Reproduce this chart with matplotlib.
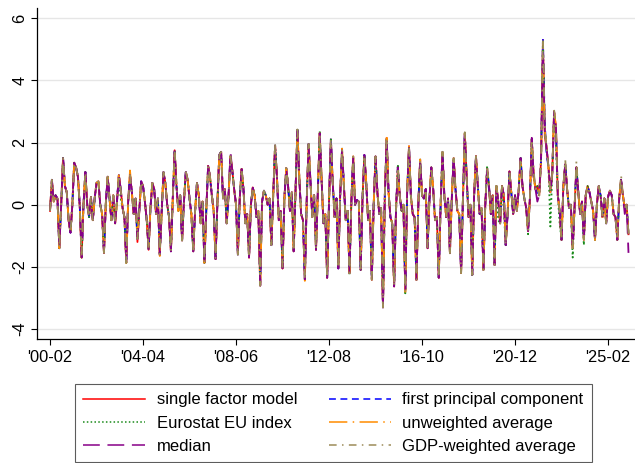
import numpy as np
import pandas as pd
import matplotlib
matplotlib.use("Agg")
import matplotlib.pyplot as plt

plt.rcParams['font.family'] = ['Liberation Sans', 'DejaVu Sans']

# monthly values, one row per calendar year (2000 starts in Feb, 2026 has Jan only)
base_rows = [
    [-0.2, 0.8, 0.1, 0.3, 0.2, -1.4, 0.0, 1.5, 0.6, 0.4, -0.5],
    [-0.9, 0.0, 1.35, 1.2, 0.9, -0.05, -1.7, 0.0, 1.05, 0.0, -0.4, 0.25],
    [-0.5, 0.2, 0.7, 0.75, 0.0, -0.3, -1.55, 0.05, 0.9, 0.2, -0.5, 0.3],
    [-0.6, 0.1, 0.95, 0.5, -0.1, -0.4, -1.87, 0.1, 0.95, 0.4, -0.3, 0.2],
    [-1.1, -0.2, 0.75, 0.6, 0.1, -0.5, -1.45, -0.1, 0.7, 0.5, -0.3, 0.2],
    [-1.6, -0.3, 1.05, 0.7, 0.0, -0.4, -1.5, 0.2, 1.75, 0.6, -0.2, 0.3],
    [-1.15, 0.1, 1.05, 0.8, 0.2, -0.3, -1.5, -0.2, 0.7, 0.3, -0.6, 0.1],
    [-1.87, -0.2, 1.25, 0.9, 0.3, -0.2, -1.75, 0.1, 1.6, 1.7, 0.2, 0.5],
    [-0.6, 0.3, 1.56, 1.1, 0.5, 0.0, -1.6, 0.2, 1.15, 0.5, -0.6, -0.3],
    [-1.7, 0.0, 0.55, 0.3, -0.4, -0.2, -2.6, 0.1, 0.45, 0.3, 0.0, 0.2],
    [-1.3, 0.3, 1.9, 0.9, -0.5, -0.2, -2.05, 0.2, 1.18, 0.6, -0.2, 0.4],
    [-1.5, 0.5, 2.4, 0.9, -0.3, -0.5, -2.4, 0.1, 1.95, 0.8, -0.4, 0.3],
    [-1.45, 0.4, 2.3, 0.8, -0.6, -0.3, -2.35, 0.1, 2.1, 0.7, -0.4, 0.2],
    [-2.05, 0.3, 1.8, 0.6, -0.5, -0.2, -2.2, 0.1, 1.55, 0.0, 0.15, 0.1],
    [-2.1, 0.2, 1.6, 0.7, -0.5, -0.2, -2.42, 0.0, 1.55, 0.4, -0.3, -0.1],
    [-3.3, 0.3, 2.15, 0.4, -0.4, -0.6, -2.63, -0.2, 1.2, 0.3, -0.2, 0.0],
    [-2.8, 0.4, 1.88, 0.3, -0.3, -0.4, -2.42, 0.0, 1.45, 0.3, 0.2, 0.5],
    [-1.4, 0.2, 1.2, 0.5, -0.5, -0.4, -2.35, 0.0, 1.7, 0.3, -0.4, 0.2],
    [-1.56, 0.2, 1.5, 0.5, -0.2, -0.3, -2.2, 0.2, 2.3, 0.9, -0.4, 0.0],
    [-2.26, 0.3, 1.56, 0.6, -0.3, -0.1, -2.1, 0.0, 1.15, 0.6, -0.3, 0.3],
    [-1.94, 0.6, 0.1, -0.6, 0.6, 0.3, -1.3, -0.3, 1.07, 0.4, -0.3, 0.3],
    [-0.2, 0.5, 1.5, 0.6, 0.2, -0.1, -0.85, 0.2, 2.1, 0.9, 0.5, 0.6],
    [0.3, 1.45, 5.3, 2.4, 1.8, 1.2, 0.4, 1.0, 3.0, 2.5, 0.3, -0.2],
    [-1.13, 0.6, 1.3, 0.5, -0.1, 0.0, -1.4, -0.1, 1.2, 0.4, -0.3, 0.1],
    [-1.13, 0.3, 0.6, 0.4, 0.1, -0.2, -1.13, 0.0, 0.6, 0.3, -0.4, 0.2],
    [-0.6, 0.25, 0.45, 0.3, -0.3, -0.4, -1.13, 0.2, 0.8, 0.3, -0.1, 0.0],
    [-0.95],
]
base = [v for row in base_rows for v in row]
months = pd.period_range('2000-02', periods=len(base), freq='M')

# months where a measure departs from the common path
factor_adj = {'2004-01': -1.2, '2013-03': 1.7, '2021-10': 1.0, '2022-04': 2.2, '2017-09': 1.6}
pca_adj = {'2021-12': 0.35, '2022-04': 2.6, '2022-09': 2.85, '2005-09': 1.7, '2016-01': -2.7,
           '2022-05': 1.6}
eurostat_adj = {'2011-03': 2.45, '2012-03': 2.38, '2013-07': -2.25, '2016-01': -2.85,
                '2017-01': -1.1, '2021-07': -0.95, '2022-07': -0.7, '2022-12': -0.6,
                '2023-07': -1.7, '2024-01': -1.3, '2010-03': 1.95, '2018-09': 2.35,
                '2015-09': 1.3, '2022-10': 2.0, '2012-09': 2.15, '2020-03': -0.5,
                '2009-07': -2.55, '2003-04': 0.2, '2019-09': 1.25, '2020-06': -0.2}
unweighted_adj = {'2005-01': -1.65, '2011-07': -2.45, '2019-01': -2.3, '2014-01': -2.0,
                  '2003-09': 1.1, '2012-09': 1.9, '2022-03': 4.9, '2015-09': 1.05}
median_adj = {'2015-01': -3.35, '2007-01': -1.95, '2021-12': 0.1, '2022-03': 5.0,
              '2026-01': -1.55, '2025-11': -0.3, '2008-03': 1.7, '2021-09': 2.15,
              '2022-02': 1.6, '2006-01': -1.2}
gdp_adj = {'2022-03': 5.35, '2022-09': 3.05, '2023-03': 1.45, '2023-09': 1.4,
           '2025-09': 0.95, '2021-10': 1.1, '2018-09': 2.33, '2011-03': 2.42}

names = ['single factor model', 'first principal component', 'Eurostat EU index',
         'unweighted average', 'median', 'GDP-weighted average']
adjustments = [factor_adj, pca_adj, eurostat_adj, unweighted_adj, median_adj, gdp_adj]
colors = ['#ff0000', '#0000ff', '#1a8a1a', '#ff8c00', '#880088', '#9c8c58']
dashes = [None, (4.5, 3), (1, 1.5), (12, 3.5, 1, 3.5), (11, 5), (5, 3.5, 1, 3.5)]

tick_months = ['2000-02', '2004-04', '2008-06', '2012-08', '2016-10', '2020-12', '2025-02']
tick_labels = ["'00-02", "'04-04", "'08-06", "'12-08", "'16-10", "'20-12", "'25-02"]
y_ticks = [-4, -2, 0, 2, 4, 6]

fig = plt.figure(figsize=(6.35, 4.63), dpi=100)
ax = fig.add_axes([37 / 635, 124 / 463, 598 / 635, 330.5 / 463])

x = np.arange(len(months))
handles = []
for name, adj, col, ds in zip(names, adjustments, colors, dashes):
    s = pd.Series(base, index=months)
    for k, v in adj.items():
        s[pd.Period(k, 'M')] = v
    line, = ax.plot(x, s.values, color=col, lw=1.3, label=name)
    if ds is not None:
        line.set_dashes(ds)
    handles.append(line)

ax.set_xlim(-7, 314.5)
ax.set_ylim(-4.32, 6.31)
tick_pos = [(pd.Period(t, 'M') - months[0]).n for t in tick_months]
ax.set_xticks(tick_pos)
ax.set_xticklabels(tick_labels, fontsize=11.8)
ax.set_yticks(y_ticks)
ax.set_yticklabels([str(v) for v in y_ticks], fontsize=11.8, rotation=90, va='center')
ax.tick_params(axis='both', length=4, width=0.8, direction='out')
ax.tick_params(axis='x', pad=4)
ax.tick_params(axis='y', pad=3)
ax.grid(axis='y', color='#e6e6e6', lw=1)
ax.set_axisbelow(True)
for side in ['top', 'right']:
    ax.spines[side].set_visible(False)
for side in ['left', 'bottom']:
    ax.spines[side].set_linewidth(0.9)

# Stata fills legend rows left to right; matplotlib fills columns
order = [0, 2, 4, 1, 3, 5]
leg = fig.legend([handles[i] for i in order], [names[i] for i in order], ncol=2,
                 loc='upper left', bbox_to_anchor=(75 / 635, 1 - 384 / 463),
                 fontsize=12, frameon=True, fancybox=False, edgecolor='#333333',
                 handlelength=3.7, handletextpad=0.7, columnspacing=1.9,
                 labelspacing=0.5, borderpad=0.5, borderaxespad=0)
leg.get_frame().set_linewidth(0.8)
for h in leg.legend_handles:
    h.set_linewidth(1.1)

fig.savefig('out.png', dpi=100)
